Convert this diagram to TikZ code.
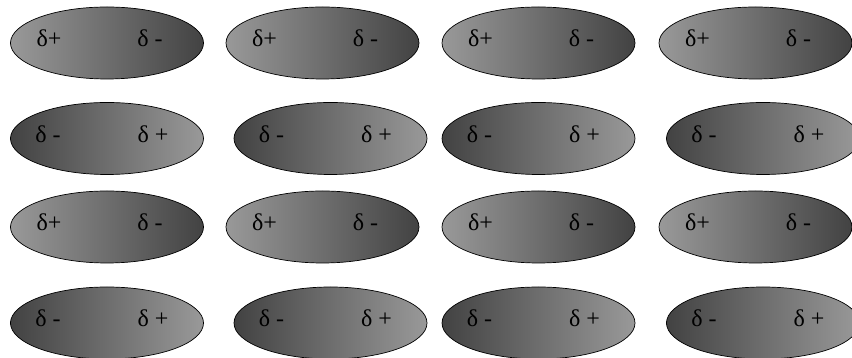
\documentclass[tikz,border=0pt]{standalone}
\usepackage{fontspec}
\setmainfont{Liberation Serif}

\definecolor{lightend}{gray}{0.6}
\definecolor{darkend}{gray}{0.26}

\tikzset{
  plusleft/.style={draw=black, line width=0.7pt, left color=lightend, right color=darkend},
  minusleft/.style={draw=black, line width=0.7pt, left color=darkend, right color=lightend},
  charge/.style={anchor=base, inner sep=0pt, font=\fontsize{24}{28}\selectfont}
}

\begin{document}
\begin{tikzpicture}[x=1pt,y=1pt]
        \useasboundingbox (0,0) rectangle (852,358);
        % row 1
        \shadedraw[plusleft] (107,315) ellipse (96.5pt and 36pt) +(-58,-4) node[charge] (p11) {δ+} +(43,-4) node[charge] (m11) {δ -};
        \shadedraw[plusleft] (322.5,315) ellipse (96.5pt and 36pt) +(-58,-4) node[charge] (p12) {δ+} +(43,-4) node[charge] (m12) {δ -};
        \shadedraw[plusleft] (538.5,315) ellipse (96.5pt and 36pt) +(-58,-4) node[charge] (p13) {δ+} +(43,-4) node[charge] (m13) {δ -};
        \shadedraw[plusleft] (755.5,315) ellipse (96.5pt and 36pt) +(-58,-4) node[charge] (p14) {δ+} +(43,-4) node[charge] (m14) {δ -};
        % row 2
        \shadedraw[minusleft] (107,219.5) ellipse (96.5pt and 36pt) +(-59,-4) node[charge] (m21) {δ -} +(46,-4) node[charge] (p21) {δ +};
        \shadedraw[minusleft] (330.5,219.5) ellipse (96.5pt and 36pt) +(-59,-4) node[charge] (m22) {δ -} +(46,-4) node[charge] (p22) {δ +};
        \shadedraw[minusleft] (538.5,219.5) ellipse (96.5pt and 36pt) +(-59,-4) node[charge] (m23) {δ -} +(46,-4) node[charge] (p23) {δ +};
        \shadedraw[minusleft] (763,219.5) ellipse (96.5pt and 36pt) +(-59,-4) node[charge] (m24) {δ -} +(46,-4) node[charge] (p24) {δ +};
        % row 3
        \shadedraw[plusleft] (107,131) ellipse (96.5pt and 36pt) +(-58,-4) node[charge] (p31) {δ+} +(43,-4) node[charge] (m31) {δ -};
        \shadedraw[plusleft] (322.5,131) ellipse (96.5pt and 36pt) +(-58,-4) node[charge] (p32) {δ+} +(43,-4) node[charge] (m32) {δ -};
        \shadedraw[plusleft] (538.5,131) ellipse (96.5pt and 36pt) +(-58,-4) node[charge] (p33) {δ+} +(43,-4) node[charge] (m33) {δ -};
        \shadedraw[plusleft] (755.5,131) ellipse (96.5pt and 36pt) +(-58,-4) node[charge] (p34) {δ+} +(43,-4) node[charge] (m34) {δ -};
        % row 4
        \shadedraw[minusleft] (107,35) ellipse (96.5pt and 36pt) +(-59,-4) node[charge] (m41) {δ -} +(46,-4) node[charge] (p41) {δ +};
        \shadedraw[minusleft] (330.5,35) ellipse (96.5pt and 36pt) +(-59,-4) node[charge] (m42) {δ -} +(46,-4) node[charge] (p42) {δ +};
        \shadedraw[minusleft] (538.5,35) ellipse (96.5pt and 36pt) +(-59,-4) node[charge] (m43) {δ -} +(46,-4) node[charge] (p43) {δ +};
        \shadedraw[minusleft] (763,35) ellipse (96.5pt and 36pt) +(-59,-4) node[charge] (m44) {δ -} +(46,-4) node[charge] (p44) {δ +};
\end{tikzpicture}
\end{document}
